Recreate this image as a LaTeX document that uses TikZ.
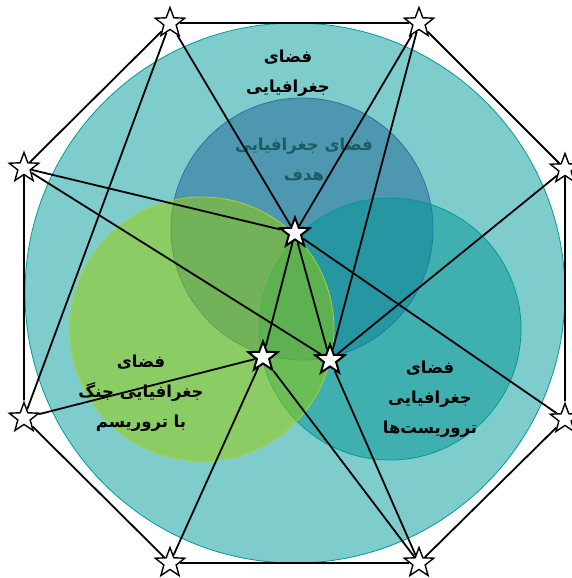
\documentclass[tikz,border=0pt]{standalone}
\usepackage{fontspec}
\newfontfamily\arabicfont[Script=Arabic]{DejaVu Sans}
\TeXXeTstate=1
\usetikzlibrary{shapes.geometric}
\definecolor{geobase}{HTML}{009999}
\definecolor{targetbase}{HTML}{1E6398}
\definecolor{terrorbase}{HTML}{009594}
\definecolor{warbase}{HTML}{98CD00}
\definecolor{targetline}{HTML}{2F6EA8}
\definecolor{warline}{HTML}{A6D22E}
\definecolor{targettext}{HTML}{1C5C60}
\newcommand{\fatext}[1]{\beginR #1\endR}

\begin{document}
\begin{tikzpicture}[x=1pt,y=-1pt,
    zone/.style={line width=0.8pt, fill opacity=0.5},
    zonetext/.style={align=center, font=\arabicfont\bfseries\fontsize{16.5}{30}\selectfont},
    marker/.style={star, star points=5, star point ratio=2.4, draw, fill=white, line width=1.4pt, minimum size=31pt, inner sep=0pt},
    hub/.style={marker, line width=2pt},
    link/.style={line width=1.8pt}
]
\useasboundingbox (0,0) rectangle (572,578);

% circles
\draw[zone, draw=geobase, fill=geobase] (295,293) circle[radius=270pt];
\draw[zone, draw=targetline, fill=targetbase] (302,229) circle[radius=131pt];
\draw[zone, draw=geobase, fill=terrorbase] (390,329) circle[radius=131pt];
\draw[zone, draw=warline, fill=warbase] (202,329) circle[radius=132pt];

% texts
\node[zonetext] (geo) at (288,73) {\fatext{فضای}\\\fatext{جغرافیایی}};
\node[zonetext, text=targettext] (target) at (304,160) {\fatext{فضای جغرافیایی}\\\fatext{هدف}};
\node[zonetext] (war) at (141,393) {\fatext{فضای}\\\fatext{جغرافیایی جنگ}\\\fatext{با تروریسم}};
\node[zonetext] (terror) at (430,399) {\fatext{فضای}\\\fatext{جغرافیایی}\\\fatext{تروریست‌ها}};

% stars
\node[marker] (t1) at (170,23) {};
\node[marker] (t2) at (419,23) {};
\node[marker] (r1) at (565,169) {};
\node[marker] (r2) at (565,419) {};
\node[marker] (b2) at (419,563) {};
\node[marker] (b1) at (170,563) {};
\node[marker] (l2) at (24,418) {};
\node[marker] (l1) at (24,168) {};
\node[hub] (a) at (295,233) {};
\node[hub] (b) at (263,357) {};
\node[hub] (c) at (330,360) {};

% octagon
\draw[link] (t1) -- (t2) -- (r1) -- (r2) -- (b2) -- (b1) -- (l2) -- (l1) -- (t1);

% links
\draw[link] (t1) -- (a);
\draw[link] (t1) -- (l2);
\draw[link] (t2) -- (a);
\draw[link] (t2) -- (c);
\draw[link] (l1) -- (a);
\draw[link] (l1) -- (c);
\draw[link] (r1) -- (c);
\draw[link] (a) -- (r2);
\draw[link] (a) -- (b);
\draw[link] (a) -- (c);
\draw[link] (b) -- (l2);
\draw[link] (b) -- (b1);
\draw[link] (b) -- (b2);
\draw[link] (c) -- (b2);
\end{tikzpicture}
\end{document}
